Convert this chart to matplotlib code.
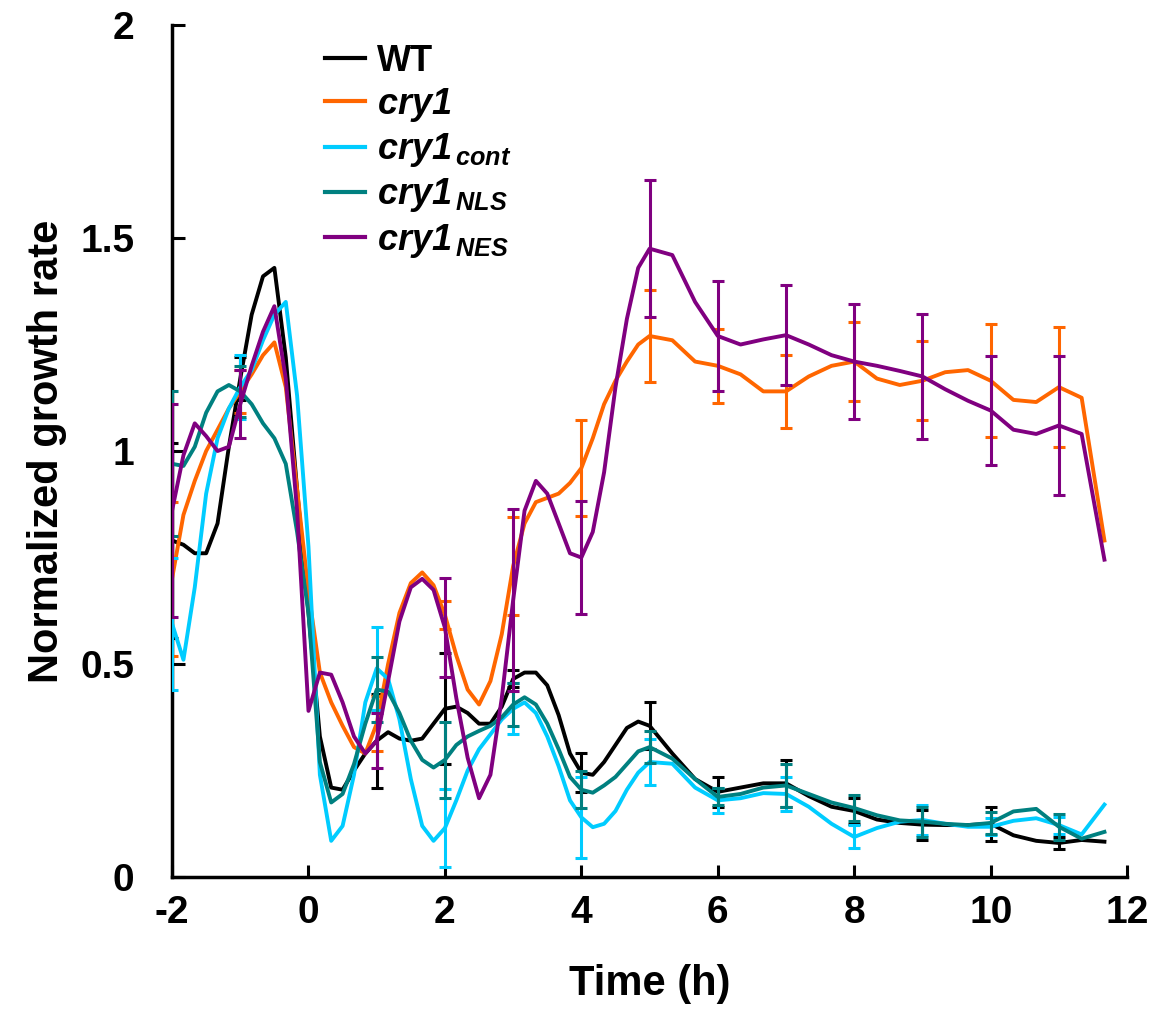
import numpy as np
import matplotlib
matplotlib.use("Agg")
import matplotlib.pyplot as plt

plt.rcParams['font.family'] = ['Liberation Sans', 'DejaVu Sans']
plt.rcParams['font.weight'] = 'bold'
plt.rcParams['axes.unicode_minus'] = False
plt.rcParams['mathtext.fontset'] = 'custom'
plt.rcParams['mathtext.rm'] = 'Liberation Sans'
plt.rcParams['mathtext.it'] = 'Liberation Sans:italic'
plt.rcParams['mathtext.bf'] = 'Liberation Sans:bold'
plt.rcParams['mathtext.bfit'] = 'Liberation Sans:bold:italic'

# ---------------- data ----------------
times = [-2, -1.833, -1.667, -1.5, -1.333, -1.167, -1, -0.833, -0.667, -0.5, -0.333, -0.167,
         0, 0.167, 0.333, 0.5, 0.667, 0.833, 1, 1.167, 1.333, 1.5, 1.667, 1.833,
         2, 2.167, 2.333, 2.5, 2.667, 2.833, 3, 3.167, 3.333, 3.5, 3.667, 3.833,
         4, 4.167, 4.333, 4.5, 4.667, 4.833, 5,
         5.333, 5.667, 6, 6.333, 6.667, 7, 7.333, 7.667, 8, 8.333, 8.667, 9, 9.333, 9.667,
         10, 10.333, 10.667, 11, 11.333, 11.667]

wt = [0.79, 0.78, 0.76, 0.76, 0.83, 1.01, 1.17, 1.32, 1.41, 1.43, 1.22, 0.91,
      0.62, 0.33, 0.21, 0.205, 0.25, 0.29, 0.32, 0.34, 0.325, 0.32, 0.325, 0.36,
      0.395, 0.40, 0.385, 0.36, 0.36, 0.40, 0.465, 0.48, 0.48, 0.45, 0.38, 0.29,
      0.245, 0.24, 0.27, 0.31, 0.35, 0.365, 0.355,
      0.29, 0.23, 0.20, 0.21, 0.22, 0.22, 0.19, 0.165, 0.155, 0.135, 0.127, 0.123, 0.122, 0.122,
      0.125, 0.098, 0.085, 0.08, 0.087, 0.083]

cry1 = [0.70, 0.85, 0.93, 1.0, 1.05, 1.10, 1.14, 1.18, 1.225, 1.255, 1.15, 0.91,
        0.67, 0.48, 0.41, 0.355, 0.305, 0.29, 0.36, 0.50, 0.62, 0.69, 0.715, 0.685,
        0.615, 0.52, 0.44, 0.405, 0.46, 0.57, 0.73, 0.83, 0.88, 0.89, 0.90, 0.925,
        0.96, 1.03, 1.11, 1.165, 1.21, 1.25, 1.27,
        1.26, 1.21, 1.20, 1.18, 1.14, 1.14, 1.175, 1.20, 1.21, 1.17, 1.155, 1.165, 1.185, 1.19,
        1.165, 1.12, 1.115, 1.15, 1.125, 0.79]

cry1_cont = [0.595, 0.51, 0.68, 0.90, 1.03, 1.10, 1.15, 1.19, 1.26, 1.32, 1.35, 1.13,
             0.775, 0.24, 0.085, 0.12, 0.24, 0.41, 0.49, 0.465, 0.37, 0.23, 0.12, 0.085,
             0.115, 0.18, 0.25, 0.30, 0.335, 0.37, 0.395, 0.41, 0.385, 0.33, 0.26, 0.18,
             0.14, 0.117, 0.125, 0.155, 0.205, 0.245, 0.27,
             0.266, 0.21, 0.18, 0.185, 0.197, 0.195, 0.165, 0.125, 0.094, 0.115, 0.13, 0.134, 0.125, 0.118,
             0.118, 0.132, 0.138, 0.122, 0.10, 0.17]

cry1_nls = [0.97, 0.965, 1.01, 1.09, 1.14, 1.155, 1.14, 1.11, 1.065, 1.03, 0.97, 0.81,
            0.62, 0.27, 0.175, 0.195, 0.265, 0.36, 0.44, 0.435, 0.385, 0.32, 0.275, 0.257,
            0.275, 0.31, 0.33, 0.343, 0.355, 0.375, 0.405, 0.422, 0.405, 0.36, 0.30, 0.235,
            0.205, 0.198, 0.215, 0.235, 0.265, 0.295, 0.305,
            0.278, 0.23, 0.188, 0.195, 0.21, 0.215, 0.195, 0.175, 0.162, 0.145, 0.133, 0.13, 0.125, 0.122,
            0.127, 0.154, 0.16, 0.118, 0.09, 0.106]

cry1_nes = [0.86, 0.99, 1.065, 1.035, 1.0, 1.01, 1.11, 1.20, 1.28, 1.34, 1.17, 0.86,
            0.39, 0.48, 0.475, 0.41, 0.33, 0.29, 0.32, 0.46, 0.60, 0.68, 0.70, 0.674,
            0.585, 0.42, 0.28, 0.185, 0.24, 0.42, 0.65, 0.86, 0.93, 0.90, 0.83, 0.76,
            0.75, 0.81, 0.95, 1.15, 1.31, 1.43, 1.475,
            1.46, 1.35, 1.27, 1.25, 1.262, 1.272, 1.25, 1.225, 1.21, 1.2, 1.188, 1.175, 1.145, 1.118,
            1.095, 1.05, 1.04, 1.06, 1.04, 0.745]

err_times = [-2, -1, 1, 2, 3, 4, 5, 6, 7, 8, 9, 10, 11]
wt_err = [0.23, 0.05, 0.11, 0.13, 0.02, 0.045, 0.055, 0.035, 0.055, 0.03, 0.035, 0.04, 0.015]
cry1_err = [0.18, 0.05, 0.065, 0.033, 0.115, 0.113, 0.109, 0.087, 0.085, 0.093, 0.093, 0.133, 0.14]
cont_err = [0.155, 0.075, 0.097, 0.092, 0.06, 0.095, 0.055, 0.03, 0.04, 0.027, 0.036, 0.02, 0.02]
nls_err = [0.17, 0.06, 0.076, 0.09, 0.05, 0.043, 0.038, 0.02, 0.05, 0.03, 0.035, 0.025, 0.03]
nes_err = [0.25, 0.08, 0.065, 0.116, 0.213, 0.133, 0.161, 0.129, 0.117, 0.134, 0.147, 0.127, 0.164]

labels = ['WT', r'$\mathbfit{cry1}$', r'$\mathbfit{cry1}_{\,\mathit{cont}}$',
          r'$\mathbfit{cry1}_{\,\mathit{NLS}}$', r'$\mathbfit{cry1}_{\,\mathit{NES}}$']
colors = ['#000000', '#FF6600', '#00CCFF', '#008080', '#800080']

series = [wt, cry1, cry1_cont, cry1_nls, cry1_nes]
errors = [wt_err, cry1_err, cont_err, nls_err, nes_err]

# ---------------- plot ----------------
fig = plt.figure(figsize=(11.57, 10.21), dpi=100)
ax = fig.add_axes([0.1487, 0.141, 0.8255, 0.8345])

t = np.array(times)
for vals, errs, col, lab in zip(series, errors, colors, labels):
    v = np.array(vals)
    ax.plot(t, v, color=col, lw=2.8, label=lab, solid_joinstyle='round', zorder=3)
    idx = [int(np.argmin(np.abs(t - et))) for et in err_times]
    ax.errorbar(t[idx], v[idx], yerr=errs, fmt='none', ecolor=col,
                elinewidth=2.2, capsize=4.5, capthick=2.2, zorder=3)

ax.set_xlim(-2, 12)
ax.set_ylim(0, 2)
ax.set_xticks([-2, 0, 2, 4, 6, 8, 10, 12])
ax.set_yticks([0, 0.5, 1, 1.5, 2])
ax.set_yticklabels(['0', '0.5', '1', '1.5', '2'])

for s in ['top', 'right']:
    ax.spines[s].set_visible(False)
for s in ['left', 'bottom']:
    ax.spines[s].set_linewidth(2.5)

ax.tick_params(axis='both', direction='in', length=9, width=2.2, labelsize=28)
ax.tick_params(axis='y', pad=27)
ax.tick_params(axis='x', pad=13)
for lbl in ax.get_xticklabels() + ax.get_yticklabels():
    lbl.set_fontweight('bold')

ax.set_xlabel('Time (h)', fontsize=30, fontweight='bold', labelpad=24)
ax.set_ylabel('Normalized growth rate', fontsize=30, fontweight='bold', labelpad=10)

leg = ax.legend(loc='upper left', bbox_to_anchor=(0.16, 0.978), frameon=False,
                fontsize=26, handlelength=1.1, handletextpad=0.35,
                labelspacing=0.2, borderaxespad=0, borderpad=0)
for line in leg.get_lines():
    line.set_linewidth(3)
for txt in leg.get_texts():
    txt.set_fontweight('bold')

fig.savefig('out.png', dpi=100)
